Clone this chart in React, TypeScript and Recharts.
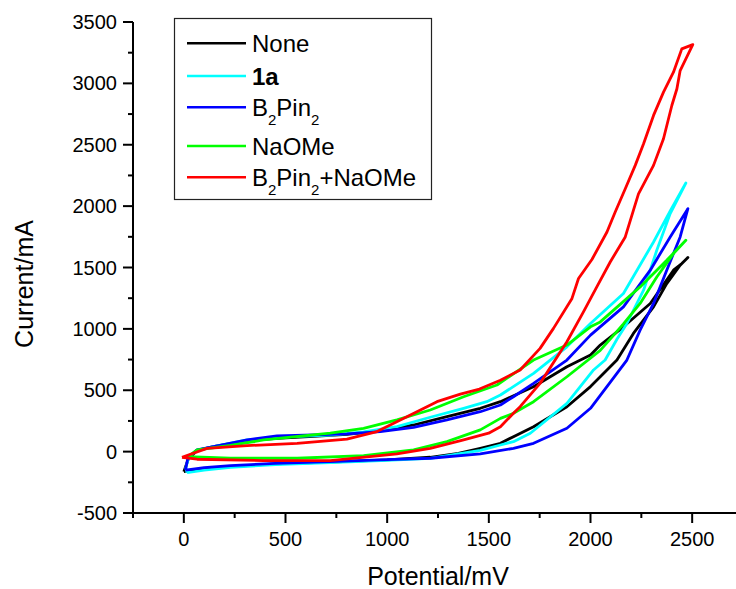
import { LineChart, Line, XAxis, YAxis } from "recharts";

// cyclic voltammograms, [potential mV, current mA]
const noneLoop: [number, number][] = [
  [0, -163], [100, -140], [229, -122], [450, -100], [720, -86], [1000, -68], [1212, -46], [1350, -15],
  [1458, 27], [1557, 68], [1621, 122], [1720, 203], [1884, 366], [2000, 530], [2048, 610], [2130, 746],
  [2211, 963], [2310, 1179], [2375, 1369], [2441, 1519], [2479, 1581],
  [2449, 1532], [2408, 1478], [2294, 1207], [2162, 1017], [2048, 868], [2000, 787], [1884, 691],
  [1720, 529], [1557, 407], [1458, 353], [1294, 285], [1130, 217], [966, 170], [802, 140], [638, 125],
  [458, 109], [311, 90], [146, 40], [65, 10], [22, -60], [0, -163],
];

const oneALoop: [number, number][] = [
  [16, -171], [100, -150], [229, -128], [450, -105], [720, -90], [1000, -72], [1212, -55], [1458, 10],
  [1557, 54], [1621, 81], [1704, 150], [1884, 393], [2015, 665], [2072, 746], [2130, 915], [2179, 1044],
  [2261, 1315], [2326, 1640], [2392, 1939], [2469, 2188],
  [2392, 1960], [2310, 1708], [2162, 1288], [2000, 1044], [1884, 854], [1720, 638], [1557, 461],
  [1490, 407], [1376, 353], [1212, 280], [1048, 203], [884, 160], [720, 135], [500, 120], [311, 95],
  [146, 40], [65, 10], [25, -40], [10, -130], [16, -171],
];

const b2pin2Loop: [number, number][] = [
  [8, -150], [100, -130], [229, -114], [450, -95], [720, -81], [1000, -65], [1212, -54], [1458, -19],
  [1621, 27], [1720, 68], [1884, 190], [2000, 353], [2130, 638], [2179, 746], [2244, 990], [2310, 1207],
  [2375, 1478], [2441, 1749], [2479, 1979],
  [2392, 1749], [2294, 1478], [2162, 1179], [2000, 949], [1884, 746], [1720, 556], [1621, 447],
  [1557, 380], [1458, 325], [1294, 258], [1130, 198], [966, 163], [802, 144], [638, 136], [458, 128],
  [311, 95], [146, 41], [65, 14], [20, -50], [8, -150],
];

const naomeLoop: [number, number][] = [
  [22, -40], [229, -54], [557, -54], [884, -32], [1130, 14], [1294, 81], [1458, 177], [1557, 271],
  [1621, 312], [1720, 407], [1884, 610], [2048, 825], [2162, 1040], [2244, 1207], [2326, 1423],
  [2408, 1613], [2469, 1722],
  [2375, 1559], [2244, 1342], [2048, 1057], [2000, 1017], [1884, 868], [1720, 746], [1540, 543],
  [1376, 447], [1212, 339], [1048, 258], [884, 190], [720, 150], [392, 95], [229, 50], [65, 14], [22, -40],
];

const mixLoop: [number, number][] = [
  [-9, -46], [65, -62], [392, -73], [720, -73], [1048, -19], [1212, 27], [1376, 95], [1499, 150],
  [1557, 203], [1621, 312], [1654, 366], [1752, 556], [1884, 895], [1966, 1140], [2031, 1342],
  [2097, 1545], [2171, 1749], [2211, 1966], [2236, 2100], [2310, 2332], [2359, 2549], [2400, 2820],
  [2425, 2956], [2441, 3104], [2503, 3316],
  [2449, 3281], [2408, 3091], [2359, 2929], [2310, 2739], [2261, 2508], [2220, 2332], [2171, 2142],
  [2121, 1950], [2081, 1789], [2007, 1565], [1941, 1410], [1909, 1248], [1818, 1004], [1752, 841],
  [1654, 665], [1557, 582], [1454, 510], [1360, 469], [1245, 407], [1097, 285], [950, 163], [802, 101],
  [557, 68], [311, 49], [114, 27], [-9, -46],
];

const xTicks = [-250, 0, 250, 500, 750, 1000, 1250, 1500, 1750, 2000, 2250, 2500, 2750];
const yTicks = [-500, -250, 0, 250, 500, 750, 1000, 1250, 1500, 1750, 2000, 2250, 2500, 2750, 3000, 3250, 3500];

const FONT = '"Liberation Sans", Arial, sans-serif';

const toPts = (arr: [number, number][]) => arr.map(([x, y]) => ({ x, y }));

const YTick = (props: any) => {
  const { x, y, payload } = props;
  const major = payload.value % 500 === 0;
  return (
    <g>
      <line x1={x - (major ? 10 : 5)} x2={x} y1={y} y2={y} stroke="#000" strokeWidth={2} />
      {major && (
        <text x={x - 16} y={y + 7} textAnchor="end" fontSize={20} fontFamily={FONT} fill="#000">
          {payload.value}
        </text>
      )}
    </g>
  );
};

const XTick = (props: any) => {
  const { x, y, payload } = props;
  const major = payload.value % 500 === 0;
  return (
    <g>
      <line x1={x} x2={x} y1={y} y2={y + (major ? 10 : 5)} stroke="#000" strokeWidth={2} />
      {major && (
        <text x={x} y={y + 33} textAnchor="middle" fontSize={20} fontFamily={FONT} fill="#000">
          {payload.value}
        </text>
      )}
    </g>
  );
};

const series = [
  { name: "None", data: noneLoop, color: "#000000" },
  { name: "1a", data: oneALoop, color: "#00ffff" },
  { name: "B2Pin2", data: b2pin2Loop, color: "#0000ff" },
  { name: "NaOMe", data: naomeLoop, color: "#00ff00" },
  { name: "B2Pin2+NaOMe", data: mixLoop, color: "#ff0000" },
];

function LegendBox() {
  const rows = [25.3, 58, 89.3, 128, 159.3];
  return (
    <svg width={260} height={184} style={{ position: "absolute", left: 174, top: 18, overflow: "visible" }}>
      <rect x={0.5} y={0.5} width={257} height={181} fill="#fff" stroke="#222" strokeWidth={1.2} />
      {series.map((s, i) => (
        <line key={s.name} x1={13} x2={72} y1={rows[i]} y2={rows[i]} stroke={s.color} strokeWidth={2.5} />
      ))}
      <g fontFamily={FONT} fontSize={24} fill="#000">
        <text x={78} y={rows[0] + 9}>None</text>
        <text x={78} y={rows[1] + 9} fontWeight="bold">1a</text>
        <text x={78} y={rows[2] + 9}>
          B<tspan fontSize={15} dy={9}>2</tspan>
          <tspan dy={-9}>Pin</tspan>
          <tspan fontSize={15} dy={9}>2</tspan>
        </text>
        <text x={78} y={rows[3] + 9}>NaOMe</text>
        <text x={78} y={rows[4] + 9}>
          B<tspan fontSize={15} dy={9}>2</tspan>
          <tspan dy={-9}>Pin</tspan>
          <tspan fontSize={15} dy={9}>2</tspan>
          <tspan dy={-9}>+NaOMe</tspan>
        </text>
      </g>
    </svg>
  );
}

export default function App() {
  return (
    <div style={{ position: "fixed", left: 0, top: 0, width: 736, height: 589, overflow: "hidden", background: "#fff" }}>
      <LineChart width={743} height={589} margin={{ top: 22, right: 0, bottom: 0, left: 0 }}>
        <XAxis
          type="number"
          dataKey="x"
          domain={[-250, 2750]}
          ticks={xTicks}
          interval={0}
          height={76}
          tickSize={0}
          tickMargin={0}
          tickLine={false}
          axisLine={{ stroke: "#000", strokeWidth: 2 }}
          tick={<XTick />}
          allowDataOverflow
        />
        <YAxis
          type="number"
          domain={[-500, 3500]}
          ticks={yTicks}
          interval={0}
          width={133}
          tickSize={0}
          tickMargin={0}
          tickLine={false}
          axisLine={{ stroke: "#000", strokeWidth: 2 }}
          tick={<YTick />}
          allowDataOverflow
        />
        {series.map((s) => (
          <Line
            key={s.name}
            data={toPts(s.data)}
            dataKey="y"
            type="linear"
            stroke={s.color}
            strokeWidth={2.8}
            strokeLinejoin="round"
            dot={false}
            activeDot={false}
            isAnimationActive={false}
          />
        ))}
      </LineChart>
      <svg width={736} height={589} style={{ position: "absolute", left: 0, top: 0, pointerEvents: "none" }}>
        <text x={438} y={585} textAnchor="middle" fontSize={25} fontFamily={FONT} fill="#000">
          Potential/mV
        </text>
        <text x={33} y={284} transform="rotate(-90, 33, 284)" textAnchor="middle" fontSize={25} fontFamily={FONT} fill="#000">
          Current/mA
        </text>
      </svg>
      <LegendBox />
    </div>
  );
}
